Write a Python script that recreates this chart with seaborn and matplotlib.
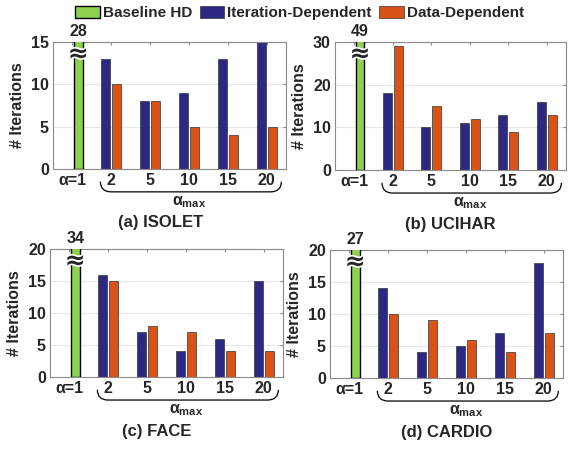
import numpy as np
import pandas as pd
import matplotlib
matplotlib.use("Agg")
import matplotlib.pyplot as plt
import matplotlib.patheffects as pe
from matplotlib.patches import Patch, PathPatch
from matplotlib.path import Path
import matplotlib.transforms as mtransforms
import seaborn as sns

# ── Data ──────────────────────────────────────────────────────────────────────
categories = ["α=1", "2", "5", "10", "15", "20"]
alpha_max = ["2", "5", "10", "15", "20"]
titles = ["(a) ISOLET", "(b) UCIHAR", "(c) FACE", "(d) CARDIO"]
baseline = [28, 49, 34, 27]
iter_dep = [[13, 8, 9, 13, 15], [18, 10, 11, 13, 16], [16, 7, 4, 6, 15], [14, 4, 5, 7, 18]]
data_dep = [[10, 8, 5, 4, 5], [29, 15, 12, 9, 13], [15, 8, 7, 4, 4], [10, 9, 6, 4, 7]]
y_max = [15, 30, 20, 20]
y_step = [5, 10, 5, 5]

# ── Style ─────────────────────────────────────────────────────────────────────
sns.set_style("white")
plt.rcParams.update({
    "font.family": ["Liberation Sans", "DejaVu Sans"],
    "font.weight": "bold",
    "font.size": 11,
    "mathtext.fontset": "custom",
    "mathtext.bf": "Liberation Sans:bold",
    "mathtext.rm": "Liberation Sans:bold",
})
GREEN = "#8fd14f"
BLUE = "#2e2885"
ORANGE = "#d95319"
SPINE = "#8a8a8a"

fig = plt.figure(figsize=(5.76, 4.49), dpi=100)
W, H = 576, 449
boxes = [(53, 42, 286, 169), (335, 42, 566, 170), (50, 249, 283, 377), (330, 250, 563, 378)]
title_x = [0.46, 0.5, 0.46, 0.5]

for i, (l, t, r, b) in enumerate(boxes):
    ax = fig.add_axes([l / W, 1 - b / H, (r - l) / W, (b - t) / H])
    df = pd.DataFrame({
        "alpha": alpha_max * 2,
        "iters": iter_dep[i] + data_dep[i],
        "method": ["Iteration-Dependent"] * 5 + ["Data-Dependent"] * 5,
    })
    sns.barplot(data=df, x="alpha", y="iters", hue="method", order=categories,
                hue_order=["Iteration-Dependent", "Data-Dependent"],
                palette=[BLUE, ORANGE], saturation=1, width=0.56, gap=0.17,
                errorbar=None, edgecolor="#333333", linewidth=0.5, legend=False, ax=ax)
    ax.bar(0.15, baseline[i], width=0.23, color=GREEN, edgecolor="black", linewidth=1.0, zorder=3)

    ax.set_xlim(-0.5, 5.5)
    ax.set_ylim(0, y_max[i])
    ax.set_yticks(np.arange(0, y_max[i] + 1, y_step[i]))
    ax.yaxis.grid(True, color="#e6e6e6", lw=0.8)
    ax.set_axisbelow(True)
    for s in ax.spines.values():
        s.set_color(SPINE)
        s.set_linewidth(0.8)
    ax.tick_params(axis="both", direction="in", length=2.5, color=SPINE,
                   top=True, right=True, labelsize=11.5, pad=3)
    ax.set_xlabel("")
    ax.set_ylabel("# Iterations", fontsize=11.5, fontweight="bold", labelpad=4)

    # broken baseline bar
    ax.annotate(str(baseline[i]), xy=(0.15, 1), xycoords=("data", "axes fraction"),
                xytext=(0, 2.5), textcoords="offset points", ha="center", va="bottom",
                fontsize=11.5, fontweight="bold", annotation_clip=False)
    ax.annotate("≈", xy=(0.15, 1), xycoords=("data", "axes fraction"),
                xytext=(0, -7), textcoords="offset points", ha="center", va="center_baseline",
                fontsize=18, fontweight="bold", family="DejaVu Sans", annotation_clip=False,
                path_effects=[pe.withStroke(linewidth=2.5, foreground="white")], zorder=5)

    # brace under alpha_max ticks
    trans = mtransforms.blended_transform_factory(ax.transData, ax.transAxes)
    verts = [(0.72, -0.10), (0.72, -0.18), (1.0, -0.18), (5.1, -0.18),
             (5.38, -0.18), (5.38, -0.10)]
    codes = [Path.MOVETO, Path.CURVE3, Path.CURVE3, Path.LINETO, Path.CURVE3, Path.CURVE3]
    ax.add_patch(PathPatch(Path(verts, codes), fill=False, lw=0.9, color="black",
                           transform=trans, clip_on=False))
    ax.text(3.0, -0.26, "α$_{\\mathbf{max}}$", transform=trans, ha="center", va="center",
            fontsize=11.5, fontweight="bold")
    ax.text(title_x[i], -0.425, titles[i], transform=ax.transAxes, ha="center",
            va="center", fontsize=12, fontweight="bold")

handles = [Patch(facecolor=GREEN, edgecolor="black", lw=1.0, label="Baseline HD"),
           Patch(facecolor=BLUE, edgecolor="#333333", lw=0.5, label="Iteration-Dependent"),
           Patch(facecolor=ORANGE, edgecolor="#333333", lw=0.5, label="Data-Dependent")]
fig.legend(handles=handles, loc="center", bbox_to_anchor=(0.52, 0.971), ncol=3,
           frameon=False, handlelength=1.6, handleheight=0.9,
           handletextpad=0.2, columnspacing=0.5, prop={"weight": "bold", "size": 11})

fig.savefig("out.png", dpi=100)
